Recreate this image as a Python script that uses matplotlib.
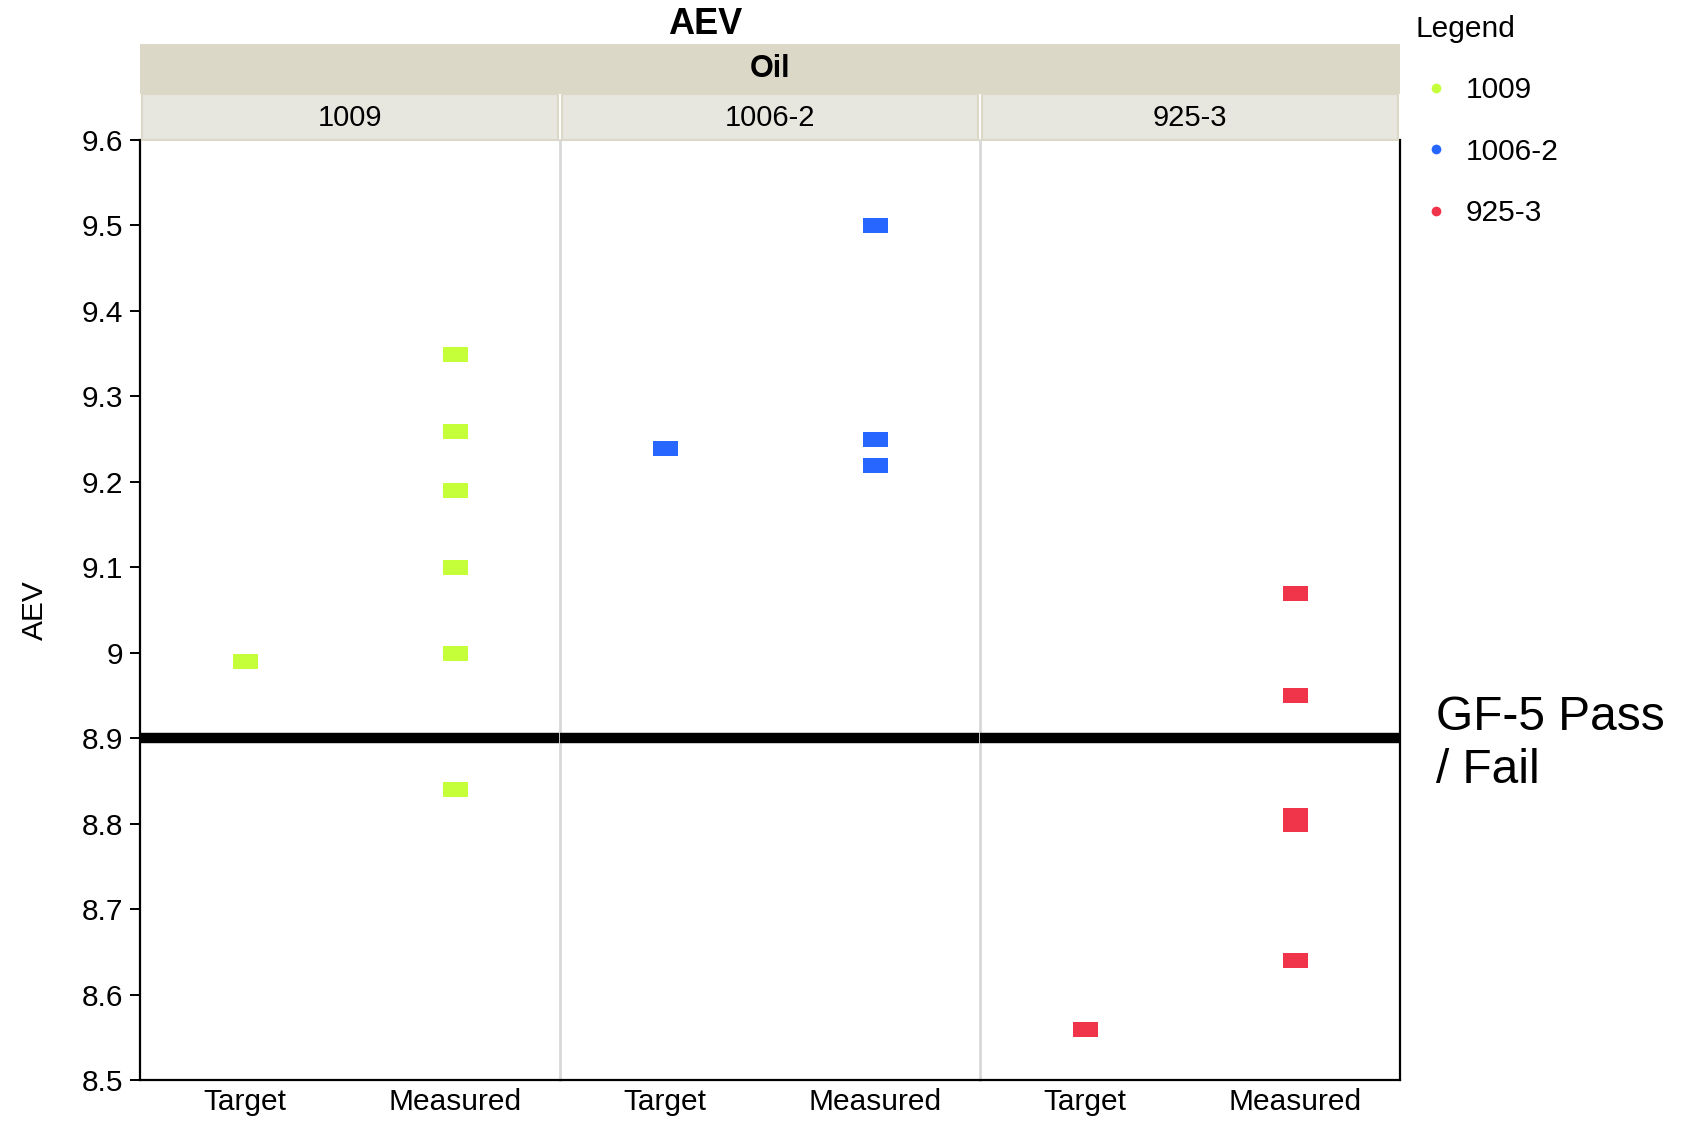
import matplotlib.pyplot as plt
from matplotlib.lines import Line2D
from matplotlib.patches import Rectangle

plt.rcParams["font.family"] = ["Liberation Sans", "DejaVu Sans"]

# data
oils = ["1009", "1006-2", "925-3"]
colors = ["#C4FF3A", "#2767FF", "#F0344A"]
categories = ["Target", "Measured"]
target_vals = [[8.99], [9.24], [8.56]]
measured_vals = [
    [9.35, 9.26, 9.19, 9.10, 9.00, 8.84],
    [9.50, 9.25, 9.22],
    [9.07, 8.95, 8.80, 8.81, 8.64],
]
pass_fail = 8.9
yticks = [8.5, 8.6, 8.7, 8.8, 8.9, 9.0, 9.1, 9.2, 9.3, 9.4, 9.5, 9.6]
ytick_labels = ["8.5", "8.6", "8.7", "8.8", "8.9", "9", "9.1", "9.2", "9.3", "9.4", "9.5", "9.6"]

W, H = 1689, 1122
fig = plt.figure(figsize=(W / 100, H / 100), dpi=100)

left, right, top, bottom = 140, 1400, 140, 1080
pw = (right - left) / 3
fs = 21.5

# rectangular marker, wider than tall
rect = [(-1, -0.6), (1, -0.6), (1, 0.6), (-1, 0.6), (-1, -0.6)]

axes = []
for i, oil in enumerate(oils):
    ax = fig.add_axes([(left + i * pw) / W, (H - bottom) / H, pw / W, (bottom - top) / H])
    axes.append(ax)

    ax.plot([0] * len(target_vals[i]), target_vals[i], ls="none", marker=rect,
            markersize=18, color=colors[i], markeredgewidth=0, zorder=3)
    ax.plot([1] * len(measured_vals[i]), measured_vals[i], ls="none", marker=rect,
            markersize=18, color=colors[i], markeredgewidth=0, zorder=3)

    ax.axhline(pass_fail, color="black", lw=7.5, zorder=4)

    ax.set_xlim(-0.5, 1.5)
    ax.set_ylim(8.5, 9.6)
    ax.set_xticks([0, 1], categories)
    ax.tick_params(axis="x", length=0, labelsize=fs, pad=6)

    ax.spines["top"].set_visible(False)
    ax.spines["bottom"].set_color("black")
    ax.spines["bottom"].set_linewidth(1.6)
    if i == 0:
        ax.spines["left"].set_color("black")
        ax.spines["left"].set_linewidth(1.6)
        ax.set_yticks(yticks, ytick_labels)
        ax.tick_params(axis="y", direction="out", length=7, width=1.4, labelsize=fs, pad=5)
        ax.set_ylabel("AEV", fontsize=fs, labelpad=24)
    else:
        ax.spines["left"].set_color("#D8D8D8")
        ax.spines["left"].set_linewidth(2)
        ax.set_yticks([])
    if i == 2:
        ax.spines["right"].set_color("black")
        ax.spines["right"].set_linewidth(1.6)
    else:
        ax.spines["right"].set_visible(False)

    # panel strip
    fig.add_artist(Rectangle(((left + i * pw + 2) / W, (H - top) / H), (pw - 4) / W, 46 / H,
                             transform=fig.transFigure, facecolor="#E8E7DF",
                             edgecolor="#DBD8C8", lw=1.5))
    fig.text((left + (i + 0.5) * pw) / W, (H - 118) / H, oil, ha="center", va="center", fontsize=21)

# top strip
fig.add_artist(Rectangle((left / W, (H - 94) / H), (right - left) / W, 50 / H,
                         transform=fig.transFigure, facecolor="#DBD8C8", edgecolor="none"))
fig.text((left + right) / 2 / W, (H - 69) / H, "Oil", ha="center", va="center",
         fontsize=22, fontweight="bold")

fig.text(705 / W, (H - 24) / H, "AEV", ha="center", va="center", fontsize=26, fontweight="bold")

fig.text(1436 / W, (H - 744) / H, "GF-5 Pass\n/ Fail", ha="left", va="center",
         fontsize=34.5, linespacing=1.25)

handles = [Line2D([], [], ls="none", marker="o", markersize=7, color=c, markeredgewidth=0)
           for c in colors]
leg = fig.legend(handles, oils, loc="upper left", bbox_to_anchor=(1389 / W, 1 + 12 / H),
                 frameon=False, title="Legend", fontsize=fs, title_fontsize=fs,
                 alignment="left", labelspacing=1.12, handletextpad=0.3, handlelength=1.37)

fig.savefig("out.png", dpi=100)
